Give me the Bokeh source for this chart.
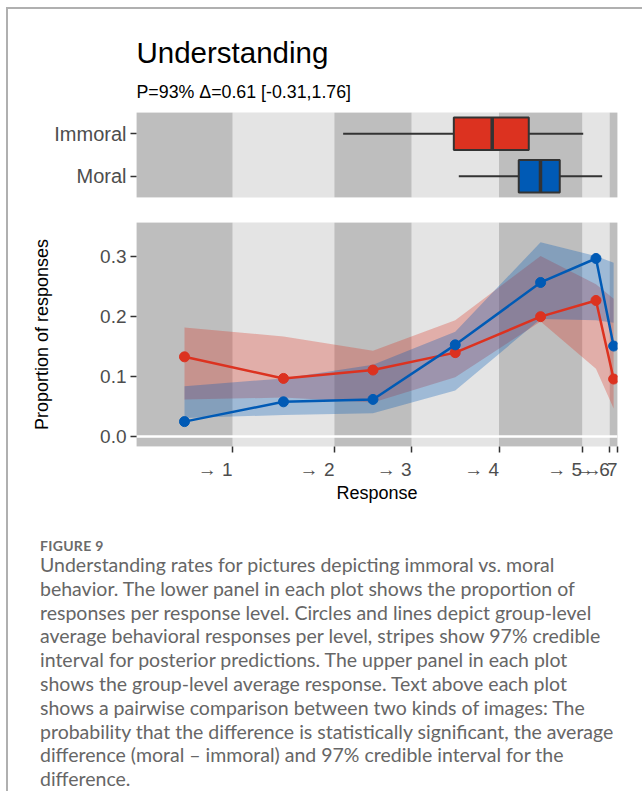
from bokeh.plotting import figure
from bokeh.layouts import column
from bokeh.models import (Range1d, FactorRange, FixedTicker, BoxAnnotation, Title,
                          Div, ColumnDataSource, Span)
from bokeh.embed import file_html
from bokeh.resources import INLINE

# ---------------- data ----------------
x_left = 0.0                                   # left limit of latent scale
thresholds = [1.215, 2.506, 3.481, 4.589, 5.642, 5.991, 6.089]
threshold_labels = ["\u2192 1", "\u2192 2", "\u2192 3", "\u2192 4", "\u2192 5", "\u2192 6", "\u2192 7"]

groups = ["Immoral", "Moral"]
colors = {"Immoral": "#DC3220", "Moral": "#005AB5"}

# proportion of responses per response level
immoral_mean = [0.133, 0.097, 0.111, 0.140, 0.200, 0.227, 0.096]
immoral_lo = [0.062, 0.065, 0.057, 0.099, 0.192, 0.113, 0.047]
immoral_hi = [0.182, 0.167, 0.143, 0.194, 0.301, 0.254, 0.230]
moral_mean = [0.025, 0.058, 0.062, 0.153, 0.257, 0.297, 0.151]
moral_lo = [0.031, 0.036, 0.039, 0.077, 0.196, 0.194, 0.190]
moral_hi = [0.084, 0.097, 0.120, 0.175, 0.324, 0.301, 0.290]

# group-level average response (box plot stats on latent scale)
box_whisker_lo = [2.616, 4.080]
box_q1 = [4.017, 4.839]
box_median = [4.503, 5.114]
box_q3 = [4.966, 5.358]
box_whisker_hi = [5.655, 5.895]

y_ticks = [0.0, 0.1, 0.2, 0.3]

title_text = "Understanding"
subtitle_text = "P=93% \u0394=0.61 [-0.31,1.76]"

# ---------------- styling ----------------
FONT = "Liberation Sans"
DARK = "#BEBEBE"
LIGHT = "#E4E4E4"
TICK_COL = "#4D4D4D"

edges = [x_left] + thresholds
mids = [(edges[i] + edges[i + 1]) / 2 for i in range(len(thresholds))]

def add_stripes(p):
    for i in range(len(thresholds)):
        if i % 2 == 0:
            p.add_layout(BoxAnnotation(left=edges[i], right=edges[i + 1],
                                       fill_color=DARK, fill_alpha=1.0,
                                       line_alpha=0, level="underlay"))

def style_common(p):
    p.background_fill_color = LIGHT
    p.border_fill_color = "white"
    p.outline_line_color = None
    p.xgrid.visible = False
    p.ygrid.visible = False

# ---------------- upper panel ----------------
x_range = Range1d(x_left, thresholds[-1])
p1 = figure(width=634, height=191, x_range=x_range,
            y_range=FactorRange(factors=["Moral", "Immoral"], range_padding=0),
            output_backend="svg", toolbar_location=None,
            min_border_left=128, min_border_right=25,
            min_border_top=103, min_border_bottom=3,
            title=title_text)
style_common(p1)
p1.title.text_font = FONT
p1.title.text_font_size = "29.5px"
p1.title.text_font_style = "normal"
p1.title.text_color = "black"
p1.title.align = "left"
p1.title.standoff = 1
p1.add_layout(Title(text=subtitle_text, text_font=FONT, text_font_size="17.8px",
                    text_font_style="normal", text_color="black", align="left",
                    standoff=21), "above")
add_stripes(p1)

bsrc = ColumnDataSource(dict(g=groups, wl=box_whisker_lo, q1=box_q1, med=box_median,
                             q3=box_q3, wh=box_whisker_hi,
                             c=[colors[g] for g in groups]))
p1.segment(x0="wl", x1="q1", y0="g", y1="g", source=bsrc, line_color="#333333", line_width=2)
p1.segment(x0="q3", x1="wh", y0="g", y1="g", source=bsrc, line_color="#333333", line_width=2)
p1.hbar(y="g", left="q1", right="q3", height=0.76, source=bsrc, fill_color="c",
        line_color="#333333", line_width=2)
p1.rect(x="med", y="g", width=3.5, width_units="screen", height=0.76, source=bsrc,
        fill_color="#333333", line_color=None)

p1.xaxis.visible = False
p1.yaxis.axis_line_color = None
p1.yaxis.major_tick_line_color = "#333333"
p1.yaxis.major_tick_line_width = 1.5
p1.yaxis.major_tick_out = 6
p1.yaxis.major_tick_in = 0
p1.yaxis.major_label_text_font = FONT
p1.yaxis.major_label_text_font_size = "20px"
p1.yaxis.major_label_text_color = TICK_COL
p1.yaxis.major_label_standoff = 4

# ---------------- lower panel ----------------
p2 = figure(width=634, height=305, x_range=x_range, y_range=Range1d(-0.0165, 0.357),
            output_backend="svg", toolbar_location=None,
            min_border_left=128, min_border_right=25,
            min_border_top=22, min_border_bottom=55)
style_common(p2)
add_stripes(p2)
p2.add_layout(Span(location=0, dimension="width", line_color="white", line_width=2.5,
                   level="underlay"))

series = [("Immoral", immoral_mean, immoral_lo, immoral_hi),
          ("Moral", moral_mean, moral_lo, moral_hi)]
for g, m, lo, hi in series:
    p2.varea(x=mids, y1=lo, y2=hi, fill_color=colors[g], fill_alpha=0.3)
for g, m, lo, hi in series:
    p2.line(x=mids, y=m, line_color=colors[g], line_width=2.5)
for g, m, lo, hi in series:
    p2.scatter(x=mids, y=m, size=10, fill_color=colors[g], line_color=colors[g])

p2.yaxis.ticker = FixedTicker(ticks=y_ticks)
p2.yaxis.major_label_overrides = {t: f"{t:.1f}" for t in y_ticks}
p2.xaxis.ticker = FixedTicker(ticks=thresholds)
p2.xaxis.major_label_overrides = dict(zip(thresholds, threshold_labels))
p2.xaxis.major_label_orientation = 1e-6   # tiny angle -> labels right-aligned to ticks
for ax in (p2.xaxis[0], p2.yaxis[0]):
    ax.axis_line_color = None
    ax.major_tick_line_color = "#333333"
    ax.major_tick_line_width = 1.5
    ax.major_tick_out = 6
    ax.major_tick_in = 0
    ax.minor_tick_line_color = None
    ax.major_label_text_font = FONT
    ax.major_label_text_font_size = "19px"
    ax.major_label_text_color = TICK_COL
    ax.axis_label_text_font = FONT
    ax.axis_label_text_font_size = "18px"
    ax.axis_label_text_font_style = "normal"
    ax.axis_label_text_color = "black"
p2.xaxis.axis_label = "Response"
p2.yaxis.axis_label = "Proportion of responses"
p2.xaxis.major_label_standoff = 17
p2.xaxis.axis_label_standoff = -11
p2.yaxis.major_label_standoff = 4
p2.yaxis.axis_label_standoff = 45

# ---------------- caption ----------------
caption_lines = [
    "Understanding rates for pictures depicting immoral vs. moral",
    "behavior. The lower panel in each plot shows the proportion of",
    "responses per response level. Circles and lines depict group-level",
    "average behavioral responses per level, stripes show 97% credible",
    "interval for posterior predictions. The upper panel in each plot",
    "shows the group-level average response. Text above each plot",
    "shows a pairwise comparison between two kinds of images: The",
    "probability that the difference is statistically significant, the average",
    "difference (moral \u2013 immoral) and 97% credible interval for the",
    "difference.",
]
cap_html = ('<div style="font-family:Lato;font-size:14px;font-weight:bold;color:#6b6b6b;'
            'letter-spacing:0.3px;line-height:14px;">FIGURE 9</div>'
            '<div style="font-family:Lato;font-size:19.5px;color:#666666;line-height:23.8px;'
            'white-space:nowrap;">' + "<br>".join(caption_lines) + '</div>')
cap = Div(text=cap_html, width=600, margin=(34, 0, 0, 32))

layout = column(p1, p2, cap,
                styles={"border-left": "2px solid #b0b0b0", "border-top": "2px solid #b0b0b0",
                        "margin-left": "6px", "margin-top": "7px"})

open("out.html", "w").write(file_html(layout, INLINE))
